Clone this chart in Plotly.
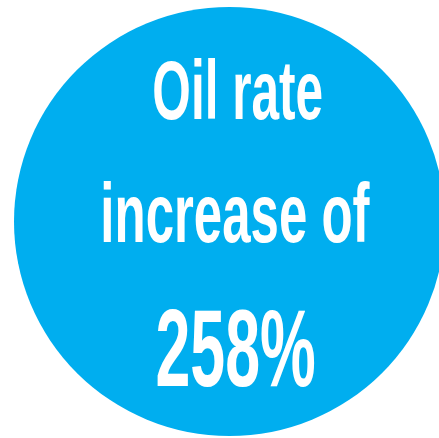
import json
import plotly.graph_objects as go

W, H = 439, 438
lines = ["Oil rate", "increase of", "258%"]
line_sizes = [84, 84, 110]
line_stretch = [0.59, 0.607, 0.57]
line_centers_px = [90, 213, 347]  # vertical centers in pixels from top
line_x_px = [237, 235.5, 235]
circle_px = dict(x0=14, x1=445, top=7, bottom=436)
circle_color = "#00AEEF"
font_family = "Liberation Sans, Arial, sans-serif"

fig = go.Figure()
fig.add_shape(
    type="circle", xref="paper", yref="paper",
    x0=circle_px["x0"] / W, x1=circle_px["x1"] / W,
    y0=1 - circle_px["bottom"] / H, y1=1 - circle_px["top"] / H,
    fillcolor=circle_color, line=dict(width=0), layer="below",
)
for txt, sz, cy, cx in zip(lines, line_sizes, line_centers_px, line_x_px):
    fig.add_annotation(
        text="<b>" + txt + "</b>", xref="paper", yref="paper", x=cx / W, y=1 - cy / H,
        xanchor="center", yanchor="middle", showarrow=False,
        font=dict(family=font_family, size=sz, color="white"),
    )
fig.update_layout(
    width=W, height=H, margin=dict(l=0, r=0, t=0, b=0),
    paper_bgcolor="white", plot_bgcolor="white",
    xaxis=dict(visible=False), yaxis=dict(visible=False),
    showlegend=False,
)
post = """
document.body.style.margin='0';
var st = %s;
document.querySelectorAll('.annotation-text').forEach(function(t, i) {
  t.style.transformBox = 'fill-box';
  t.style.transformOrigin = 'center';
  t.style.transform = 'scaleX(' + st[i] + ')';
});
""" % json.dumps(line_stretch)
fig.write_html("out.html", post_script=post, config={"displayModeBar": False})
